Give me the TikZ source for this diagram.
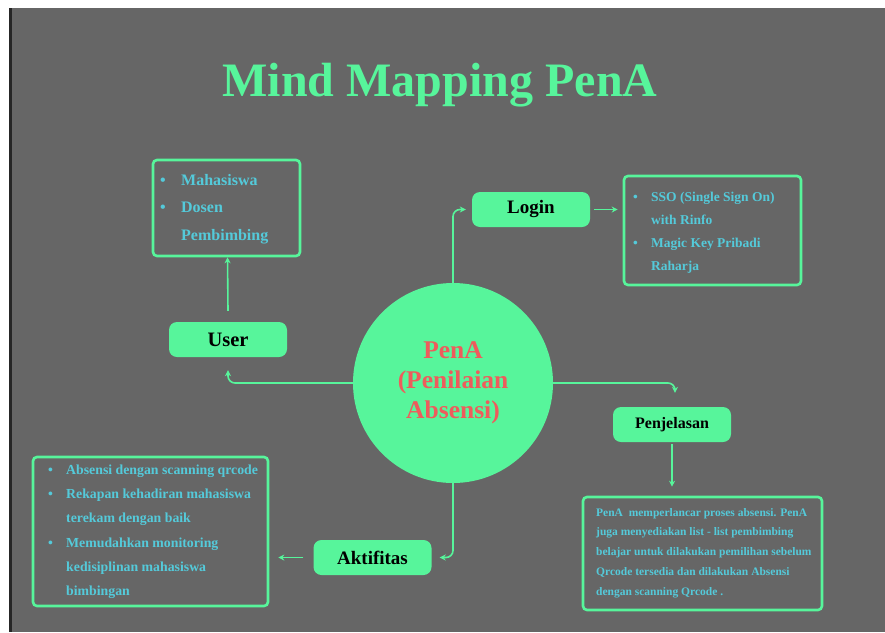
\documentclass[tikz,border=0pt]{standalone}
\usepackage{fontspec}
\setmainfont{Liberation Serif}
\usetikzlibrary{arrows.meta,calc}
\definecolor{bggray}{RGB}{102,102,102}
\definecolor{mint}{RGB}{87,245,155}
\definecolor{cyantext}{RGB}{84,202,218}
\definecolor{redtext}{RGB}{238,92,92}
\tikzset{
  conn/.style={draw=mint, line width=1.6pt, -{Stealth[length=6pt,width=6pt]}},
  keynode/.style={rectangle, rounded corners=8pt, fill=mint, minimum width=118pt, minimum height=35pt, inner sep=0pt, font=\bfseries\fontsize{19}{22}\selectfont, text=black},
  listbox/.style={rectangle, rounded corners=4pt, draw=mint, line width=2.6pt, inner sep=0pt},
  listtext/.style={anchor=north west, align=left, inner sep=0pt, text=cyantext},
}
\newcommand{\bl}[1]{\makebox[#1][l]{\textbullet}}
\begin{document}
\begin{tikzpicture}[x=1pt,y=-1pt]
  \useasboundingbox (0,0) rectangle (885,632);
  \fill[white] (0,0) rectangle (885,632);
  \fill[bggray] (12,8) rectangle (885,632);
  \fill[black!85] (9,8) rectangle (12,632);

  % title
  \node[text=mint, font=\bfseries\fontsize{48}{52}\selectfont] (title) at (440,85) {Mind Mapping PenA};

  % centre
  \node[circle, fill=mint, minimum size=200pt, inner sep=0pt, align=center, text=redtext,
        font=\bfseries\fontsize{25.5}{30}\selectfont] (c) at (453,383) {PenA\\(Penilaian\\Absensi)};

  % key nodes
  \node[keynode, font=\bfseries\fontsize{20.5}{22}\selectfont] (user) at (228,339.5) {User};
  \node[keynode] (login) at (531,209.5) {Login};
  \node[keynode, font=\bfseries\fontsize{16}{19}\selectfont] (penj) at (672,424.5) {Penjelasan};
  \node[keynode] (akt) at (372.5,557.5) {Aktifitas};

  % list boxes
  \node[listbox, minimum width=147pt, minimum height=96pt] (userlist) at (226.5,208) {};
  \node[listbox, minimum width=177pt, minimum height=109pt] (loginlist) at (712.5,230.5) {};
  \node[listbox, minimum width=235pt, minimum height=149pt] (aktlist) at (150.5,531.5) {};
  \node[listbox, minimum width=239pt, minimum height=113pt] (desc) at (702.5,553.5) {};

  % list texts
  \node[listtext, font=\bfseries\fontsize{16}{27.5}\selectfont] (usertxt) at (160,174)
    {\bl{21pt}Mahasiswa\\\bl{21pt}Dosen\\\hspace*{21pt}Pembimbing};
  \node[listtext, font=\bfseries\fontsize{13.5}{23}\selectfont] (logintxt) at (633,192)
    {\bl{18pt}SSO (Single Sign On)\\\hspace*{18pt}with Rinfo\\\bl{18pt}Magic Key Pribadi\\\hspace*{18pt}Raharja};
  \node[listtext, font=\bfseries\fontsize{13.8}{24.1}\selectfont] (akttxt) at (48,465)
    {\bl{18pt}Absensi dengan scanning qrcode\\\bl{18pt}Rekapan kehadiran mahasiswa\\\hspace*{18pt}terekam dengan baik\\\bl{18pt}Memudahkan monitoring\\\hspace*{18pt}kedisiplinan mahasiswa\\\hspace*{18pt}bimbingan};
  \node[listtext, font=\bfseries\fontsize{11.5}{19.8}\selectfont] (desctxt) at (596,508)
    {PenA\ \ memperlancar proses absensi. PenA\\juga menyediakan list - list pembimbing\\belajar untuk dilakukan pemilihan sebelum\\Qrcode tersedia dan dilakukan Absensi\\dengan scanning Qrcode .};

  % connectors
  \draw[conn, rounded corners=7pt] (c.west) -| ([yshift=-13pt]user.south);
  \draw[conn, rounded corners=7pt] (c.north) |- ([xshift=-6pt]login.west);
  \draw[conn, rounded corners=7pt] ([yshift=0pt]c.east) -| ([xshift=3pt,yshift=14pt]penj.north);
  \draw[conn, rounded corners=7pt] (c.south) |- ([xshift=8pt]akt.east);
  \draw[conn] ([yshift=11pt]user.north) -- ([xshift=1pt]userlist.south);
  \draw[conn] ([xshift=4pt]login.east) -- ([xshift=-5pt]login.east -| loginlist.west);
  \draw[conn] ([yshift=-2pt]penj.south) -- ([yshift=9pt]penj.south |- desc.north);
  \draw[conn] ([xshift=-10pt]akt.west) -- ([xshift=9pt]akt.west -| aktlist.east);
\end{tikzpicture}
\end{document}
